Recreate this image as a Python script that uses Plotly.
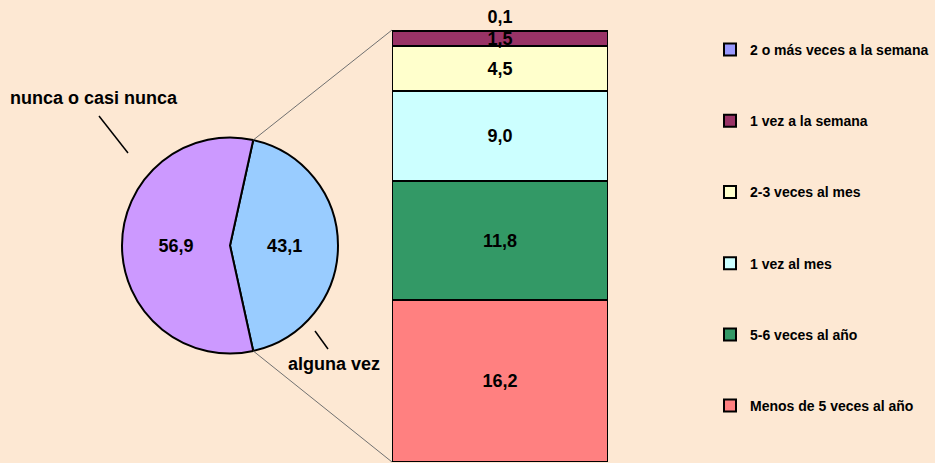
import math
import plotly.graph_objects as go

W, H = 935, 463
BG = "#FDE8D3"
FONT = "Arial, Liberation Sans, sans-serif"

# ---- data ----
pie_labels = ["alguna vez", "nunca o casi nunca"]
pie_values = [43.1, 56.9]
pie_colors = ["#99CCFF", "#CC99FF"]

bar_labels = ["Menos de 5 veces al año", "5-6 veces al año", "1 vez al mes",
              "2-3 veces al mes", "1 vez a la semana", "2 o más veces a la semana"]
bar_values = [16.2, 11.8, 9.0, 4.5, 1.5, 0.1]
bar_colors = ["#FF8080", "#339966", "#CCFFFF", "#FFFFCC", "#993366", "#9999FF"]

# ---- layout geometry (pixels) ----
pie_cx, pie_cy, pie_r = 230, 245.5, 108
bar_x0, bar_x1 = 392, 608
bar_top, bar_bot = 30, 462

def px_x(x):
    return x / W

def px_y(y):
    return 1 - y / H

fig = go.Figure()

share = pie_values[0] / sum(pie_values)
rotation = 90 - share * 360 / 2

fig.add_trace(go.Pie(
    labels=pie_labels, values=pie_values, sort=False, direction="clockwise",
    rotation=rotation,
    marker=dict(colors=pie_colors, line=dict(color="black", width=2)),
    texttemplate=[f"{v:.1f}".replace(".", ",") for v in pie_values],
    textinfo="text", textposition="inside", insidetextorientation="horizontal",
    textfont=dict(family=FONT, size=18, color="black", weight="bold"),
    domain=dict(x=[px_x(pie_cx - pie_r), px_x(pie_cx + pie_r)],
                y=[px_y(pie_cy + pie_r), px_y(pie_cy - pie_r)]),
    showlegend=False, hoverinfo="label+value",
))

n = len(bar_values)
for i, (lab, val, col) in enumerate(zip(bar_labels, bar_values, bar_colors)):
    fig.add_trace(go.Bar(
        x=[0], y=[val], name=lab, legendgroup=lab, legendrank=n - i,
        marker=dict(color=col, line=dict(color="black", width=2)),
        text=[f"{val:.1f}".replace(".", ",")],
        textposition="outside" if i == n - 1 else "inside",
        insidetextanchor="middle", constraintext="none",
        textfont=dict(family=FONT, size=18, color="black", weight="bold"),
        outsidetextfont=dict(family=FONT, size=18, color="black", weight="bold"),
        width=1, cliponaxis=False,
    ))

# connector lines from pie slice edges to bar corners
a1 = math.radians(rotation)
a2 = math.radians(rotation + share * 360)
p1 = (pie_cx + pie_r * math.sin(a1), pie_cy - pie_r * math.cos(a1))
p2 = (pie_cx + pie_r * math.sin(a2), pie_cy - pie_r * math.cos(a2))
shapes = [
    dict(type="line", xref="paper", yref="paper",
         x0=px_x(p1[0]), y0=px_y(p1[1]), x1=px_x(bar_x0), y1=px_y(bar_top),
         line=dict(color="#707070", width=1)),
    dict(type="line", xref="paper", yref="paper",
         x0=px_x(p2[0]), y0=px_y(p2[1]), x1=px_x(bar_x0), y1=px_y(bar_bot),
         line=dict(color="#707070", width=1)),
    # label leader lines
    dict(type="line", xref="paper", yref="paper",
         x0=px_x(99), y0=px_y(116), x1=px_x(128), y1=px_y(153),
         line=dict(color="black", width=1.5)),
    dict(type="line", xref="paper", yref="paper",
         x0=px_x(315), y0=px_y(331), x1=px_x(328), y1=px_y(349),
         line=dict(color="black", width=1.5)),
]

annotations = [
    dict(text="nunca o casi nunca", x=px_x(94), y=px_y(98), xref="paper", yref="paper",
         xanchor="center", yanchor="middle",
         showarrow=False, font=dict(family=FONT, size=18, color="black", weight="bold")),
    dict(text="alguna vez", x=px_x(333.5), y=px_y(364), xref="paper", yref="paper",
         xanchor="center", yanchor="middle",
         showarrow=False, font=dict(family=FONT, size=18, color="black", weight="bold")),
]

fig.update_layout(
    width=W, height=H, margin=dict(l=0, r=0, t=0, b=0),
    paper_bgcolor=BG, plot_bgcolor=BG,
    barmode="stack", bargap=0,
    xaxis=dict(domain=[px_x(bar_x0), px_x(bar_x1)], range=[-0.5, 0.5],
               visible=False, fixedrange=True),
    yaxis=dict(domain=[px_y(bar_bot), px_y(bar_top)], range=[0, sum(bar_values)],
               visible=False, fixedrange=True),
    legend=dict(x=px_x(710), xanchor="left", y=px_y(34), yanchor="top",
                traceorder="grouped", tracegroupgap=50,
                font=dict(family=FONT, size=14, color="black", weight="bold"),
                bgcolor="rgba(0,0,0,0)"),
    shapes=shapes, annotations=annotations,
    showlegend=True,
)

fig.write_html("out.html", config={"displayModeBar": False},
               post_script="document.body.style.margin='0px';document.body.style.background='" + BG + "';")
